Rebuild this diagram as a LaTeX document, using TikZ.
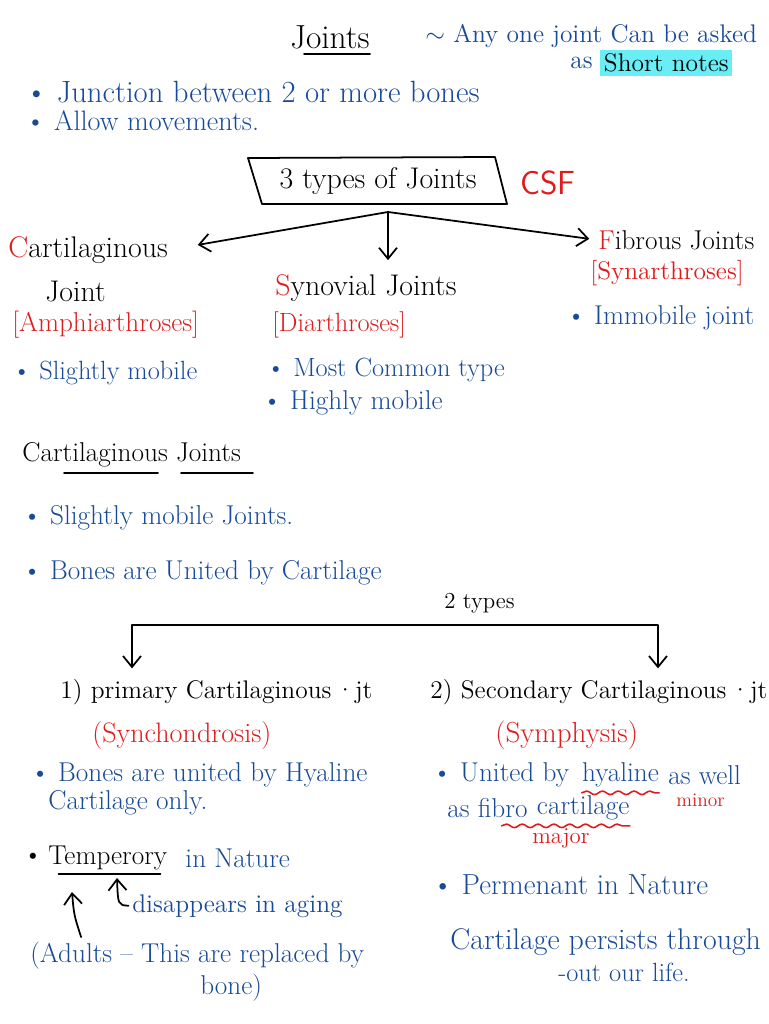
\documentclass[tikz,border=0pt]{standalone}
\usetikzlibrary{positioning,arrows.meta,decorations.pathmorphing}

\definecolor{inkblue}{RGB}{24,74,152}
\definecolor{inkred}{RGB}{222,28,28}
\definecolor{marker}{RGB}{105,238,246}

\begin{document}
\begin{tikzpicture}[
  x=0.02cm,
  y=-0.02cm,
  line cap=round,
  line join=round,
  txt/.style={anchor=west, inner sep=0pt, font=\fontsize{15.5}{18}\selectfont},
  blu/.style={txt, text=inkblue},
  blk/.style={txt, text=black},
  rd/.style={txt, text=inkred},
  pen/.style={line width=1pt},
  arr/.style={line width=1pt, -{Straight Barb[length=2.2mm,width=3.6mm]}},
  wavy/.style={inkred, line width=0.9pt, decorate,
    decoration={snake, amplitude=1pt, segment length=9pt}}
]
  \def\fs#1{\fontsize{#1}{#1}\selectfont}
  \def\bul{\textbullet\ }

  \useasboundingbox (0,0) rectangle (768,1024);

  % Heading
  \node[blk, anchor=center, font=\fs{19}] (title) at (330,37) {Joints};
  \draw[pen]
    ([xshift=8pt,yshift=-3pt]title.south west) -- ([yshift=-3pt]title.south east);

  \node[blu, font=\fs{14.5}] (ask) at (425,36) {$\sim$ Any one joint Can be asked};
  \node[blu, font=\fs{14.5}] (as) at (570,63) {as};
  \node[blk, font=\fs{14.5}, fill=marker, inner sep=2pt, right=4pt of as]
    (short) {Short notes};

  \node[blu, font=\fs{17.5}] (junction) at (25,92) {\bul Junction between 2 or more bones};
  \node[blu, font=\fs{16}] (allow) at (25,121) {\bul Allow movements.};

  % 3 types box
  \node[blk, anchor=center, font=\fs{17}] (types) at (378,181) {3 types of Joints};
  \draw[pen]
    (248,158) -- (495,157) -- (507,204) -- (262,204) -- cycle;
  \node[rd, font=\sffamily\fs{19}] (csf) at (520,183) {CSF};

  \coordinate (fork) at (388,212);

  % Cartilaginous
  \node[blk, font=\fs{17}] (cart) at (8,250) {{\color{inkred}C}artilaginous};
  \node[blk, font=\fs{17}] (joint) at (45,292) {Joint};
  \node[rd, font=\fs{15.5}] (amphi) at (12,325) {[Amphiarthroses]};
  \node[blu, font=\fs{15}] (slight) at (12,373) {\bul Slightly mobile};

  % Synovial
  \node[blk, font=\fs{17}] (syn) at (275,288) {{\color{inkred}S}ynovial Joints};
  \node[rd, font=\fs{15}] (diar) at (272,325) {[Diarthroses]};
  \node[blu, font=\fs{15}] (common) at (266,370) {\bul Most Common type};
  \node[blu, font=\fs{15.5}] (highly) at (262,403) {\bul Highly mobile};

  % Fibrous
  \node[blk, font=\fs{15.5}] (fib) at (598,240) {{\color{inkred}F}ibrous Joints};
  \node[rd, font=\fs{14.5}] (synar) at (590,273) {[Synarthroses]};
  \node[blu, font=\fs{15.5}] (immob) at (566,318) {\bul Immobile joint};

  \draw[arr, shorten >=17pt] (fork) -- (cart.east);
  \draw[arr, shorten >=8pt] (fork) -- (fork |- syn.north);
  \draw[arr, shorten >=5pt] (fork) -- (fib.west);

  % Cartilaginous joints
  \node[blk, font=\fs{15.5}] (cjhead) at (22,455) {Cartilaginous Joints};
  \draw[pen] (64,473) -- (158,473);
  \draw[pen] (181,473) -- (253,473);
  \node[blu] (slight2) at (22,518) {\bul Slightly mobile Joints.};
  \node[blu] (united) at (22,573) {\bul Bones are United by Cartilage};
  \node[blk, font=\fs{13}] (twotypes) at (444,603) {2 types};

  \node[blk, font=\fs{14.5}] (prim) at (60,692) {1) primary Cartilaginous\,\textperiodcentered jt};
  \node[blk, font=\fs{14.5}] (sec) at (430,692) {2) Secondary Cartilaginous\,\textperiodcentered jt};

  \coordinate (brL) at (132,625);
  \coordinate (brR) at (658,625);
  \draw[line width=1pt,
    {Straight Barb[length=2.2mm,width=3.6mm]}-{Straight Barb[length=2.2mm,width=3.6mm]},
    shorten <=6pt, shorten >=6pt]
    (brL |- prim.north) -- (brL) -- (brR) -- (brR |- sec.north);

  % Primary
  \node[rd, font=\fs{16}] (synch) at (92,735) {(Synchondrosis)};
  \node[blu] (hyal1) at (30,775) {\bul Bones are united by Hyaline};
  \node[blu] (only) at (48,803) {Cartilage only.};
  \node[blk, anchor=center] (tdot) at (33,858) {\textbullet};
  \node[blk] (temp) at (48,858) {Temperory};
  \node[blu, right=10pt of temp] (nature) {in Nature};
  \draw[pen]
    ([xshift=6pt,yshift=-2pt]temp.south west) -- ([xshift=-4pt,yshift=-2pt]temp.south east);
  \node[blu, font=\fs{14.5}] (disap) at (132,906) {disappears in aging};
  \node[blu] (adults) at (30,956) {(Adults -- This are replaced by};
  \node[blu] (bone) at (200,988) {bone)};

  \coordinate (tmpA) at (117,878);
  \coordinate (tmpB) at (72,892);
  \draw[arr, shorten <=2pt]
    (disap.west) .. controls (118,905) .. (tmpA);
  \draw[arr, shorten <=3pt]
    ([xshift=30pt]adults.north west) .. controls (74,915) .. (tmpB);

  % Secondary
  \node[rd, font=\fs{16.5}] (symph) at (495,735) {(Symphysis)};
  \node[blu] (unitedby) at (432,775) {\bul United by};
  \node[blu, right=7pt of unitedby] (hyal) {hyaline};
  \node[blu, right=5pt of hyal] (aswell) {as well};
  \draw[wavy]
    ([yshift=-3pt]hyal.south west) -- ([yshift=-3pt]hyal.south east);
  \node[rd, font=\fs{11}] (minor) at (676,800) {minor};

  \node[blu] (asfibro) at (447,808) {as fibro};
  \node[blu, right=5pt of asfibro] (cart2) {cartilage};
  \draw[wavy]
    ([xshift=-20pt,yshift=-3pt]cart2.south west) -- ([yshift=-3pt]cart2.south east);
  \node[rd, font=\fs{13}] (major) at (532,838) {major};

  \node[blu, font=\fs{16.5}] (perm) at (432,885) {\bul Permenant in Nature};
  \node[blu, font=\fs{17}] (persist) at (450,942) {Cartilage persists through};
  \node[blu, font=\fs{15}] (outlife) at (558,972) {-out our life.};
\end{tikzpicture}
\end{document}
